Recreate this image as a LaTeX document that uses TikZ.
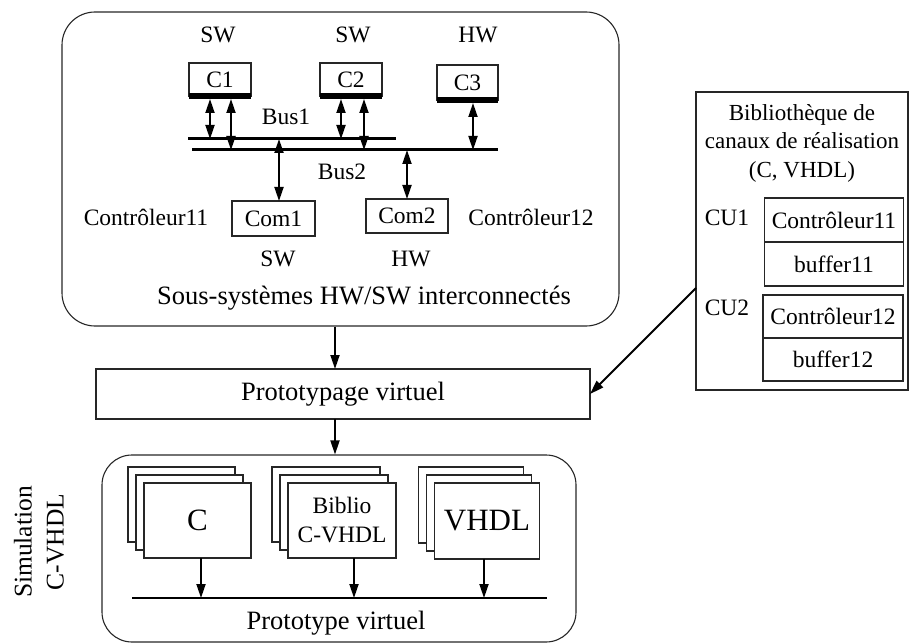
\documentclass[tikz,border=0pt]{standalone}
\usepackage{fontspec}
\setmainfont{Liberation Serif}
\usetikzlibrary{arrows.meta, positioning}
\tikzstyle{frame} = [rectangle, rounded corners=33pt, draw=black!85, line width=1.1pt]
\tikzstyle{box} = [rectangle, draw=black!85, line width=1.1pt, fill=white, inner sep=0pt, outer sep=0pt]
\tikzstyle{txt} = [font=\fontsize{23.5}{28}\selectfont, inner sep=0pt]
\tikzstyle{bigtxt} = [font=\fontsize{26.5}{32}\selectfont, inner sep=0pt]
\tikzstyle{bus} = [line width=3pt]
\tikzstyle{bar} = [line width=6pt]
\tikzstyle{arrow} = [line width=1.8pt, -{Triangle[length=14pt,width=9pt]}]
\tikzstyle{dblarrow} = [line width=1.8pt, {Triangle[length=14pt,width=9pt]}-{Triangle[length=14pt,width=9pt]}]

\begin{document}
\begin{tikzpicture}[x=1pt, y=-1pt]
\useasboundingbox (0,0) rectangle (910,644);

% interconnected sub-systems
\node (subsys) [frame, minimum width=557pt, minimum height=314pt] at (340.5,169) {};
\node (sw1) [txt] at (218,35) {SW};
\node (sw2) [txt] at (353,35) {SW};
\node (hw3) [txt] at (478,35) {HW};

\node (c1) [box, txt, minimum width=62pt, minimum height=33pt] at (220,79.5) {C1};
\node (c2) [box, txt, minimum width=62pt, minimum height=33pt] at (351,79.5) {C2};
\node (c3) [box, txt, minimum width=61pt, minimum height=35pt] at (467.5,82.5) {C3};
\draw [bar] (c1.south west) -- (c1.south east);
\draw [bar] (c2.south west) -- (c2.south east);
\draw [bar] (c3.south west) -- (c3.south east);

\coordinate (bus1w) at (188,139);
\coordinate (bus1e) at (396,139);
\coordinate (bus2w) at (192,150);
\coordinate (bus2e) at (498,150);
\draw [bus] (bus1w) -- (bus1e);
\draw [bus] (bus2w) -- (bus2e);
\node (bus1) [txt] at (286,117) {Bus1};
\node (bus2) [txt] at (342,172) {Bus2};

\draw [dblarrow] ([xshift=-10pt,yshift=-3pt]c1.south) -- ([xshift=-10pt]c1.south |- bus1w);
\draw [dblarrow] ([xshift=11pt,yshift=-3pt]c1.south) -- ([xshift=11pt]c1.south |- bus2w);
\draw [dblarrow] ([xshift=-10pt,yshift=-3pt]c2.south) -- ([xshift=-10pt]c2.south |- bus1w);
\draw [dblarrow] ([xshift=13pt,yshift=-3pt]c2.south) -- ([xshift=13pt]c2.south |- bus2w);
\draw [dblarrow] ([xshift=5.5pt,yshift=-3pt]c3.south) -- ([xshift=5.5pt]c3.south |- bus2w);

\node (com1) [box, txt, minimum width=83pt, minimum height=35pt] at (273.5,218.5) {Com1};
\node (com2) [box, txt, minimum width=82pt, minimum height=34pt] at (407,216) {Com2};
\draw [dblarrow] ([xshift=5.5pt]com1.north) -- ([xshift=5.5pt]com1.north |- bus1w);
\draw [dblarrow] (com2.north) -- (com2.north |- bus2w);

\node (ctl11) [txt] at (146,217) {Contrôleur11};
\node (ctl12) [txt] at (531,217) {Contrôleur12};
\node (sw4) [txt] at (278,259) {SW};
\node (hw5) [txt] at (411,259) {HW};
\node (subsyst) [bigtxt] at (364,298) {Sous-systèmes HW/SW interconnectés};

% virtual prototyping
\node (proto) [box, bigtxt, minimum width=494pt, minimum height=50pt] at (343,394) {Prototypage virtuel};
\draw [arrow] ([xshift=-8pt]proto.north |- subsys.south) -- ([xshift=-8pt]proto.north);

% channel library
\node (lib) [box, minimum width=212pt, minimum height=298pt] at (802,241) {};
\node (libtitle) [txt, align=center, font=\fontsize{23}{28.5}\selectfont] at (802,143) {Bibliothèque de\\canaux de réalisation\\(C, VHDL)};
\node (cua) [txt] at (727,218) {CU1};
\node (cub) [txt] at (727,308) {CU2};
\node (ctla) [box, txt, minimum width=139pt, minimum height=44pt] at (834,220) {Contrôleur11};
\node (bufa) [box, txt, minimum width=139pt, minimum height=44pt, below=0pt of ctla] {buffer11};
\node (ctlb) [box, txt, minimum width=140pt, minimum height=43pt] at (833,316.5) {Contrôleur12};
\node (bufb) [box, txt, minimum width=140pt, minimum height=43pt, below=0pt of ctlb] {buffer12};
\draw [arrow] ([yshift=-47pt]lib.west) -- (proto.east);

% C-VHDL simulation
\node (simbox) [frame, rounded corners=30pt, minimum width=474pt, minimum height=187pt] at (339,548.5) {};
\draw [arrow] ([xshift=-8pt]proto.south) -- ([xshift=-8pt]proto.south |- simbox.north);
\node (simlabel) [align=center, rotate=90, inner sep=0pt, font=\fontsize{25.5}{32}\selectfont] at (39,542) {Simulation\\C-VHDL};

\node (cback) [box, minimum width=107pt, minimum height=75pt] at (181.5,504.5) {};
\node (cmid) [box, minimum width=107pt, minimum height=75pt] at (189.5,512.5) {};
\node (cfront) [box, minimum width=107pt, minimum height=75pt, font=\fontsize{31}{36}\selectfont] at (197.5,520.5) {C};

\node (bback) [box, minimum width=108pt, minimum height=75pt] at (326,504.5) {};
\node (bmid) [box, minimum width=108pt, minimum height=75pt] at (334,512.5) {};
\node (bfront) [box, minimum width=108pt, minimum height=75pt, align=center, font=\fontsize{23.5}{29}\selectfont] at (342,520.5) {Biblio\\C-VHDL};

\node (vback) [box, minimum width=105pt, minimum height=76pt] at (471,505) {};
\node (vmid) [box, minimum width=105pt, minimum height=76pt] at (479,513) {};
\node (vfront) [box, minimum width=105pt, minimum height=76pt, font=\fontsize{31}{36}\selectfont] at (487,521) {VHDL};

\coordinate (protow) at (132,598);
\coordinate (protoe) at (547,598);
\draw [line width=2.5pt] (protow) -- (protoe);
\draw [arrow] ([xshift=3.5pt]cfront.south) -- ([xshift=3.5pt]cfront.south |- protow);
\draw [arrow] ([xshift=12pt]bfront.south) -- ([xshift=12pt]bfront.south |- protow);
\draw [arrow] ([xshift=-3pt]vfront.south) -- ([xshift=-3pt]vfront.south |- protow);
\node (protot) [bigtxt] at (336,623) {Prototype virtuel};

\end{tikzpicture}
\end{document}
